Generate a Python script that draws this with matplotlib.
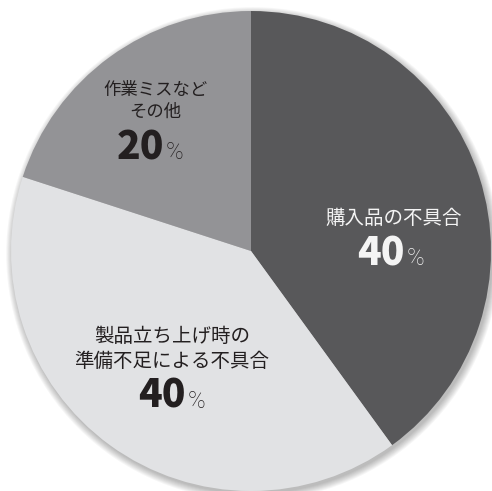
import matplotlib
matplotlib.use("Agg")
import matplotlib.pyplot as plt
from matplotlib.patches import Circle

plt.rcParams['font.family'] = ['Noto Sans CJK JP', 'DejaVu Sans']

# data
labels = ["購入品の不具合", "製品立ち上げ時の\n準備不足による不具合", "作業ミスなど\nその他"]
values = [40, 40, 20]
colors = ["#58585a", "#e1e2e4", "#939396"]
text_colors = ["#f4f4f4", "#231f20", "#231f20"]

W, H = 492, 491
CX, CY, R = 251, 251, 240  # pie centre and radius in pixels


def px(x, y):
    # pixel (from top-left) -> data coords (pie radius = 1)
    return (x - CX) / R, (CY - y) / R


fig = plt.figure(figsize=(W / 100, H / 100), dpi=100)
ax = fig.add_axes([0, 0, 1, 1])

# soft shadow
for k in range(8):
    ax.add_patch(Circle((0.008, -0.012), 1 + 0.004 * k, color="black",
                        alpha=0.035, lw=0, zorder=0))

ax.pie(values, colors=colors, startangle=90, counterclock=False,
       radius=1, wedgeprops=dict(linewidth=0))

ax.set_xlim(px(0, 0)[0], px(W, 0)[0])
ax.set_ylim(px(0, H)[1], px(0, 0)[1])
ax.set_aspect("equal")
ax.axis("off")

# label positions (pixel coords): text centre, number right edge, baseline
label_pos = [(394, 219), (172, 349), (155, 101)]
label_size = [14, 14, 12.5]
num_pos = [(405, 265), (186, 408), (164, 159)]

for i in range(len(values)):
    x, y = px(*label_pos[i])
    ax.text(x, y, labels[i], ha="center", va="center", fontsize=label_size[i],
            color=text_colors[i], linespacing=1.25)
    nx, ny = px(*num_pos[i])
    ax.text(nx, ny, str(values[i]), ha="right", va="baseline", fontsize=28,
            fontweight="black", color=text_colors[i])
    ax.text(nx + 2 / R, ny, "%", ha="left", va="baseline", fontsize=17,
            family="Roboto", fontweight="light", color=text_colors[i])

fig.savefig("out.png", dpi=100, facecolor="white")
